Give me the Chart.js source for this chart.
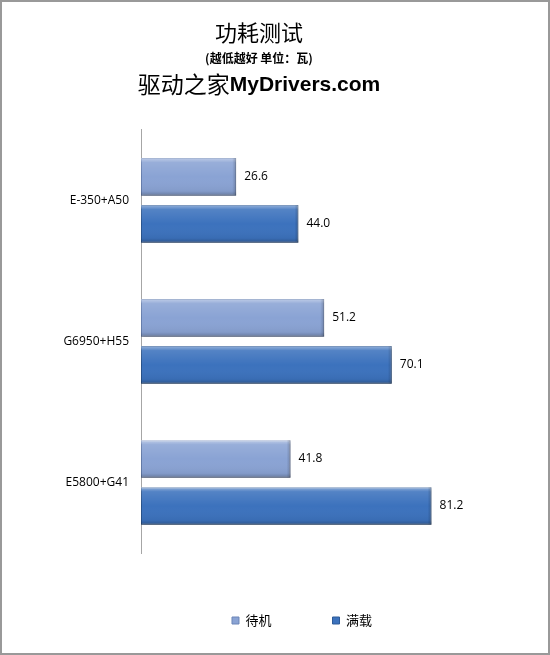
<!DOCTYPE html>
<html>
<head>
<meta charset="utf-8">
<script src="https://cdn.jsdelivr.net/npm/chart.js@4.4.0/dist/chart.umd.min.js"></script>
<style>
  body { margin: 0; background: #fff; }
  #box { width: 550px; height: 655px; box-sizing: border-box; border: 2px solid #999; }
</style>
</head>
<body>
<div id="box"><canvas id="myChart"></canvas></div>
<script>
var categories = ['E-350+A50', 'G6950+H55', 'E5800+G41'];
var idle = [26.6, 51.2, 41.8];      // 待机
var full = [44.0, 70.1, 81.2];      // 满载
var seriesNames = ['待机', '满载'];

var cjk = '"Noto Sans CJK SC", "Noto Sans", sans-serif';
var latin = '"Open Sans", "Noto Sans", sans-serif';

// bevel look + value labels on top of the bars
var barLook = {
    id: 'barLook',
    beforeDatasetDraw: function(chart) {
        var ctx = chart.ctx;
        ctx.save();
        ctx.shadowColor = 'rgba(0,0,0,0.25)';
        ctx.shadowBlur = 3;
        ctx.shadowOffsetY = 2;
    },
    afterDatasetDraw: function(chart) {
        chart.ctx.restore();
    },
    afterDatasetsDraw: function(chart) {
        var ctx = chart.ctx;
        chart.data.datasets.forEach(function(ds, i) {
            var meta = chart.getDatasetMeta(i);
            meta.data.forEach(function(bar, j) {
                var left = Math.min(bar.x, bar.base), right = Math.max(bar.x, bar.base);
                var top = bar.y - bar.height / 2, h = bar.height;
                var g = ctx.createLinearGradient(0, top, 0, top + h);
                g.addColorStop(0, 'rgba(255,255,255,0.45)');
                g.addColorStop(0.12, 'rgba(255,255,255,0.12)');
                g.addColorStop(0.5, 'rgba(255,255,255,0)');
                g.addColorStop(0.88, 'rgba(0,0,0,0.05)');
                g.addColorStop(1, 'rgba(0,0,0,0.25)');
                ctx.fillStyle = g;
                ctx.fillRect(left, top, right - left, h);
                // right bevel edge
                var g2 = ctx.createLinearGradient(right - 4, 0, right, 0);
                g2.addColorStop(0, 'rgba(0,0,0,0)');
                g2.addColorStop(1, 'rgba(0,0,0,0.2)');
                ctx.fillStyle = g2;
                ctx.fillRect(right - 4, top, 4, h);

                ctx.fillStyle = '#000';
                ctx.font = '12px ' + latin;
                ctx.textAlign = 'left';
                ctx.textBaseline = 'middle';
                ctx.fillText(ds.data[j].toFixed(1), right + 8, bar.y);
            });
        });
    },
    afterDraw: function(chart) {
        // third title line with mixed weights
        var ctx = chart.ctx;
        var a = '驱动之家', b = 'MyDrivers.com';
        var fa = '23px ' + cjk, fb = 'bold 21px "Liberation Sans", sans-serif';
        ctx.save();
        ctx.font = fa; var wa = ctx.measureText(a).width;
        ctx.font = fb; var wb = ctx.measureText(b).width;
        var x = 257 - (wa + wb) / 2, y = 82;
        ctx.fillStyle = '#000';
        ctx.textBaseline = 'middle';
        ctx.textAlign = 'left';
        ctx.font = fa; ctx.fillText(a, x, y);
        ctx.font = fb; ctx.fillText(b, x + wa, y + 1);
        ctx.restore();
    }
};

var ctx = document.getElementById('myChart').getContext('2d');
var myChart = new Chart(ctx, {
    type: 'bar',
    data: {
        labels: categories,
        datasets: [{
            label: seriesNames[0],
            data: idle,
            backgroundColor: '#8aa3d4',
            borderColor: '#6c86b8',
            borderWidth: 1,
            borderSkipped: false,
            categoryPercentage: 0.667,
            barPercentage: 0.8
        }, {
            label: seriesNames[1],
            data: full,
            backgroundColor: '#3c72bd',
            borderColor: '#2c5a98',
            borderWidth: 1,
            borderSkipped: false,
            categoryPercentage: 0.667,
            barPercentage: 0.8
        }]
    },
    options: {
        indexAxis: 'y',
        responsive: true,
        maintainAspectRatio: false,
        animation: false,
        layout: { padding: { left: 53, right: 85, bottom: 16 } },
        plugins: {
            title: {
                display: true,
                text: '功耗测试',
                color: '#000',
                font: { family: cjk, size: 22, weight: 'normal' },
                padding: { top: 17, bottom: 2 }
            },
            subtitle: {
                display: true,
                text: '(越低越好 单位：瓦)',
                color: '#000',
                font: { family: cjk, size: 12, weight: 'bold' },
                padding: { top: 4, bottom: 64 }
            },
            legend: {
                position: 'bottom',
                fullSize: false,
                labels: {
                    color: '#000',
                    font: { family: cjk, size: 13 },
                    boxWidth: 7,
                    boxHeight: 7,
                    padding: 61
                }
            },
            tooltip: { enabled: false }
        },
        scales: {
            x: { min: 0, max: 90, display: false },
            y: {
                grid: { display: false, drawTicks: false },
                border: { display: true, color: '#a6a6a6', width: 1 },
                ticks: { color: '#000', font: { family: latin, size: 12 }, padding: 12 },
                afterFit: function(scale) { scale.width = 86; }
            }
        }
    },
    plugins: [barLook]
});
</script>
</body>
</html>
